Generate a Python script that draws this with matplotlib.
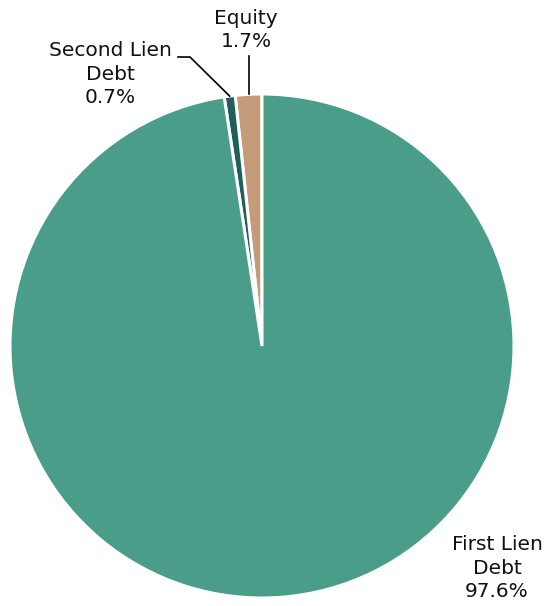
import numpy as np
import matplotlib
matplotlib.use("Agg")
import matplotlib.pyplot as plt

# ================= DATOS =================
categorias = ["Equity", "Second Lien\nDebt", "First Lien\nDebt"]
valores = [1.7, 0.7, 97.6]
colores = ["#C49C79", "#1F5F59", "#4A9E89"]

# ================= FIGURA =================
W, H = 548, 606
fig = plt.figure(figsize=(W / 100, H / 100), dpi=100)

cx, cy, r = 262, 260, 252  # centro y radio en pixeles
ax = fig.add_axes([(cx - r) / W, (cy - r) / H, 2 * r / W, 2 * r / H])

wedges, _ = ax.pie(valores, colors=colores, startangle=90, counterclock=True,
                   radius=1, wedgeprops=dict(edgecolor="white", linewidth=2.2))
ax.set_xlim(-1, 1)
ax.set_ylim(-1, 1)
ax.set_aspect("equal")
ax.axis("off")

fuente = dict(fontsize=14.5, family="DejaVu Sans", ha="center", va="center",
              linespacing=1.32, color="#111111")


def a_datos(px, py):
    # pixeles de la imagen (origen arriba-izquierda) -> coordenadas del eje
    return ((px - cx) / r, ((H - py) - cy) / r)


# Etiquetas con sus porcentajes
for i, (cat, val) in enumerate(zip(categorias, valores)):
    etiqueta = f"{cat}\n{val}%"
    if i == 0:
        ax.text(*a_datos(246, 30), etiqueta, **fuente)
        w = wedges[i]
        ang = np.deg2rad((w.theta1 + w.theta2) / 2)
        ax.plot([np.cos(ang), np.cos(ang)], [np.sin(ang), a_datos(0, 56)[1]],
                color="black", lw=1.2)
    elif i == 1:
        ax.text(*a_datos(110, 74), etiqueta, **fuente)
        w = wedges[i]
        ang = np.deg2rad((w.theta1 + w.theta2) / 2)
        x0, y0 = a_datos(178, 57)
        x1, _ = a_datos(190, 57)
        ax.plot([x0, x1, np.cos(ang)], [y0, y0, np.sin(ang)],
                color="black", lw=1.2)
    else:
        ax.text(*a_datos(497, 568), etiqueta, **fuente)

for a in ax.lines + ax.texts:
    a.set_clip_on(False)

fig.savefig("out.png", dpi=100, facecolor="white")
